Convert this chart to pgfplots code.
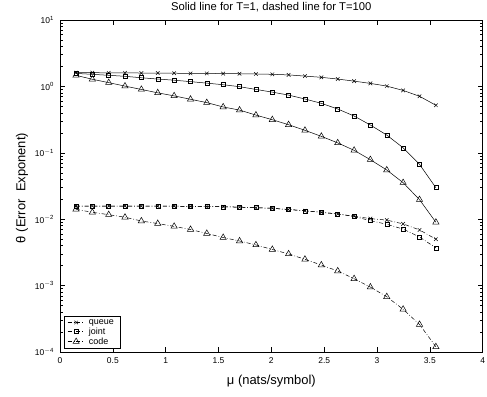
\documentclass[border=0pt]{standalone}
\usepackage{pgfplots}
\pgfplotsset{compat=1.18}
\usepackage{fontspec}
\setmainfont{Liberation Sans}
\newcommand\tp[1]{10\raisebox{0.8ex}{\fontsize{6}{6}\selectfont #1}}

\pgfplotstableread{
x       qs     js     cs      qd      jd      cd
0.151   1.61   1.57   1.47    0.0158  0.0158  0.0141
0.306   1.61   1.52   1.28    0.0158  0.0158  0.0127
0.461   1.60   1.47   1.14    0.0158  0.0158  0.0117
0.615   1.60   1.42   1.01    0.0158  0.0158  0.0107
0.770   1.59   1.35   0.90    0.0157  0.0157  0.0094
0.925   1.59   1.29   0.80    0.0157  0.0157  0.0086
1.080   1.58   1.24   0.72    0.0157  0.0157  0.0078
1.235   1.57   1.18   0.64    0.0156  0.0156  0.0070
1.389   1.57   1.12   0.57    0.0155  0.0155  0.0061
1.544   1.56   1.06   0.49    0.0154  0.0154  0.0053
1.699   1.55   0.99   0.44    0.0152  0.0152  0.0047
1.854   1.54   0.90   0.37    0.0149  0.0149  0.0041
2.009   1.52   0.82   0.315   0.0146  0.0146  0.0035
2.163   1.49   0.74   0.265   0.0140  0.0140  0.0030
2.318   1.43   0.646  0.218   0.0134  0.0134  0.00249
2.473   1.37   0.556  0.177   0.0127  0.0127  0.00204
2.628   1.29   0.457  0.141   0.0120  0.0120  0.00166
2.783   1.20   0.358  0.109   0.0111  0.0110  0.00127
2.937   1.11   0.262  0.0788  0.0102  0.0095  0.00095
3.092   1.01   0.185  0.0551  0.0097  0.0084  0.00068
3.247   0.87   0.119  0.0355  0.0085  0.0071  0.00044
3.402   0.71   0.067  0.0197  0.0069  0.0054  0.00026
3.557   0.52   0.0298 0.0090  0.0050  0.0037  0.00012
}\data

\begin{document}
\begin{tikzpicture}[x=1bp,y=1bp]
\useasboundingbox (-60,-44) rectangle (427,352);
\begin{axis}[
  at={(0,0)}, anchor=south west,
  scale only axis, width=422.7bp, height=332bp,
  ymode=log, xmin=0, xmax=4, ymin=1e-4, ymax=10,
  axis line style={line width=0.9bp},
  every tick/.style={black, line width=0.5bp},
  tick align=inside,
  major tick length=5bp, minor tick length=3bp,
  xtick={0,0.5,...,4},
  ytick={1e-4,1e-3,1e-2,1e-1,1,10},
  yticklabels={\tp{$-$4},\tp{$-$3},\tp{$-$2},\tp{$-$1},\tp{0},\tp{1}},
  minor ytick={2e-4,3e-4,4e-4,5e-4,6e-4,7e-4,8e-4,9e-4,
               2e-3,3e-3,4e-3,5e-3,6e-3,7e-3,8e-3,9e-3,
               2e-2,3e-2,4e-2,5e-2,6e-2,7e-2,8e-2,9e-2,
               0.2,0.3,0.4,0.5,0.6,0.7,0.8,0.9,
               2,3,4,5,6,7,8,9},
  /pgf/number format/assume math mode=true,
  ticklabel style={font=\fontsize{8.5}{10}\selectfont},
  xticklabel style={yshift=-2bp},
  yticklabel style={xshift=-3bp},
  xlabel={μ (nats/symbol)},
  xlabel style={at={([yshift=-32bp]axis description cs:0.5,0)}, anchor=base, font=\fontsize{13}{15}\selectfont},
  ylabel={θ (Error\ \ Exponent)},
  ylabel style={at={([xshift=-38bp,yshift=-2bp]axis description cs:0,0.5)}, anchor=center, font=\fontsize{13}{15}\selectfont},
  legend style={at={(axis description cs:0,0)}, anchor=south west, xshift=4bp, yshift=3bp,
    font=\fontsize{9}{10.5}\selectfont, draw=black, line width=0.8bp,
    inner xsep=3bp, inner ysep=2bp,
    nodes={inner xsep=4bp, inner ysep=1bp},
    row sep=0bp, legend cell align=left},
  legend image code/.code={\draw[mark repeat=2,mark phase=2,#1] plot coordinates {(0bp,0bp) (8.5bp,0bp) (17bp,0bp)};},
  every axis plot/.append style={black, line width=0.5bp},
  clip=false,
]
\addplot[mark=x, mark size=2.5bp, forget plot] table[x=x,y=qs] {\data};
\addplot[mark=square, mark size=2bp, forget plot] table[x=x,y=js] {\data};
\addplot[mark=triangle, mark size=3.6bp, forget plot] table[x=x,y=cs] {\data};
\addplot[mark=x, mark size=2.5bp, dash pattern=on 4bp off 2bp on 0.7bp off 2bp, mark options={solid}] table[x=x,y=qd] {\data};
\addlegendentry{queue}
\addplot[mark=square, mark size=2bp, dash pattern=on 4bp off 2bp on 0.7bp off 2bp, mark options={solid}] table[x=x,y=jd] {\data};
\addlegendentry{joint}
\addplot[mark=triangle, mark size=3.6bp, dash pattern=on 4bp off 2bp on 0.7bp off 2bp, mark options={solid}] table[x=x,y=cd] {\data};
\addlegendentry{code}
\node[anchor=base, font=\fontsize{11.3}{13}\selectfont, inner sep=0pt] at ([yshift=9.7bp]rel axis cs:0.5,1) {Solid line for T=1, dashed line for T=100};
\end{axis}
\end{tikzpicture}
\end{document}
